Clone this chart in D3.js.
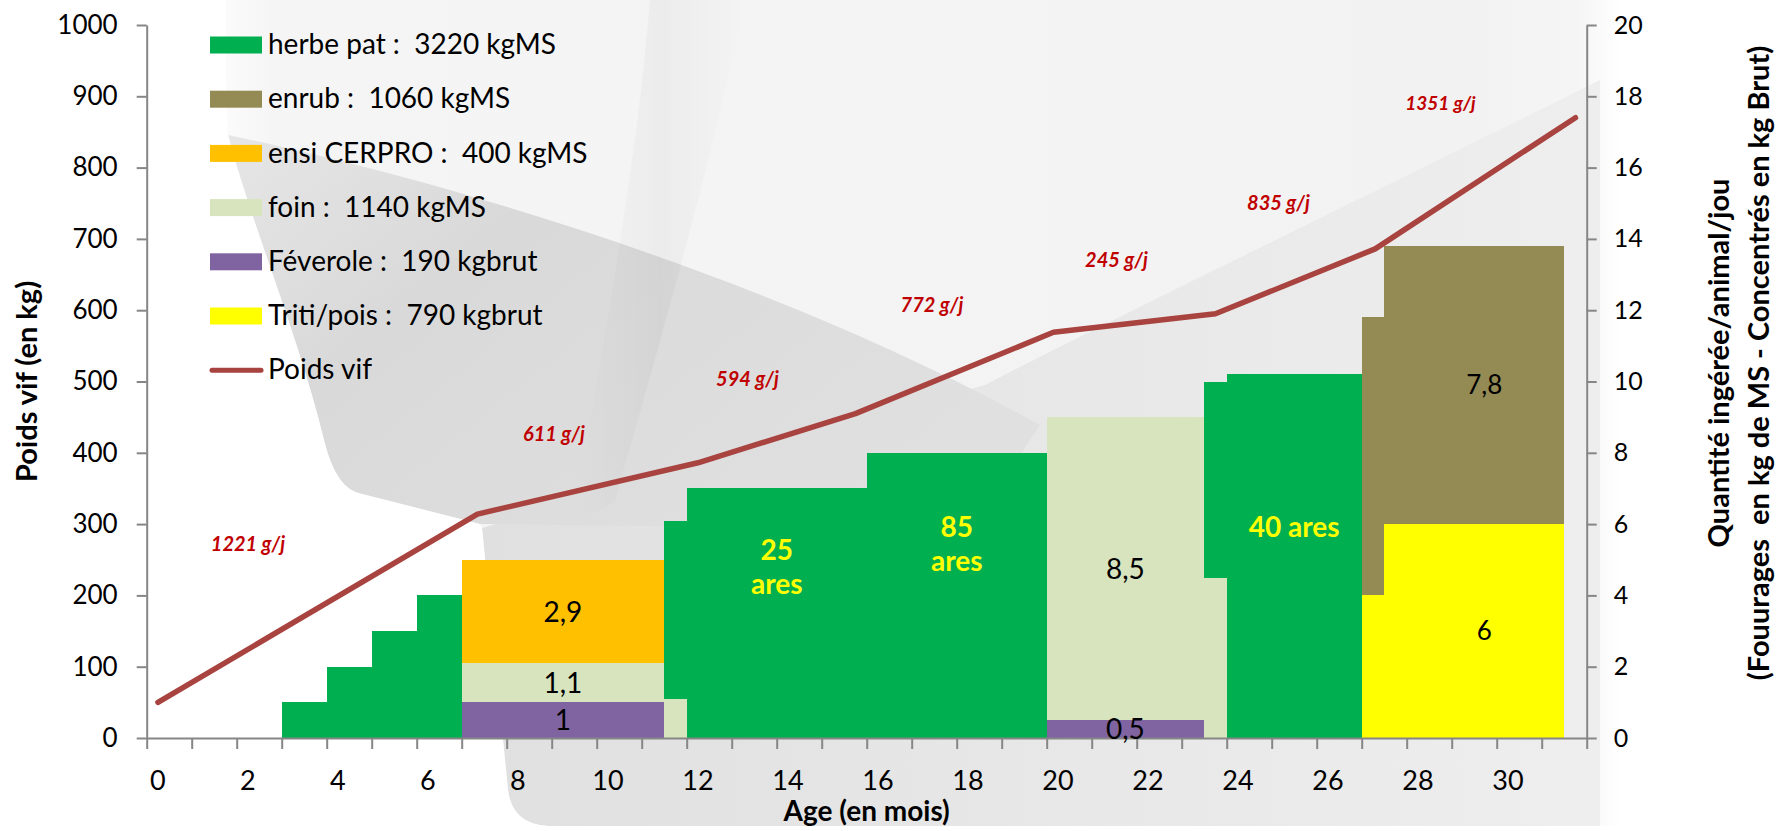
<!DOCTYPE html>
<html>
<head>
<meta charset="utf-8">
<script src="https://cdn.jsdelivr.net/npm/d3@7"></script>
<style>
  html, body { margin: 0; padding: 0; background: #fff; }
  svg { display: block; }
  text { font-family: Lato, "Noto Sans", sans-serif; }
</style>
</head>
<body>
<svg id="chart" width="1789" height="831"></svg>
<script>
// ---------- feeding periods (monthly tick units) ----------
const periodStart = [3, 4, 5, 6, 7, 11.5, 12, 16, 20, 23.5, 24, 27, 27.5];
const periodEnd   = [4, 5, 6, 7, 11.5, 12, 16, 20, 23.5, 24, 27, 27.5, 31.5];

// daily intake per animal (kg MS for forages, kg brut for concentrates)
const feverole = [0, 0, 0, 0, 1,   0,   0, 0, 0.5, 0,   0,    0,   0];
const triti    = [0, 0, 0, 0, 0,   0,   0, 0, 0,   0,   0,    4,   6];
const foin     = [0, 0, 0, 0, 1.1, 1.1, 0, 0, 8.5, 4.5, 0,    0,   0];
const herbe    = [1, 2, 3, 4, 0,   5.0, 7, 8, 0,   5.5, 10.2, 0,   0];
const ensi     = [0, 0, 0, 0, 2.9, 0,   0, 0, 0,   0,   0,    0,   0];
const enrub    = [0, 0, 0, 0, 0,   0,   0, 0, 0,   0,   0,    7.8, 7.8];

// stacking order, bottom to top
const stackKeys = ["feverole", "triti", "foin", "herbe", "ensi", "enrub"];

// legend
const legendKeys   = ["herbe", "enrub", "ensi", "foin", "feverole", "triti"];
const legendLabels = ["herbe pat :  3220 kgMS", "enrub :  1060 kgMS", "ensi CERPRO :  400 kgMS",
                      "foin :  1140 kgMS", "Féverole :  190 kgbrut", "Triti/pois :  790 kgbrut"];
const lineLabel = "Poids vif";

// live weight (kg) against age (months)
const ageMonths = [0, 7.1, 12, 15.5, 19.9, 23.5, 27.05, 31.5];
const poidsVif  = [50, 314, 386, 455, 569, 595, 686, 870];

// daily gain annotations (placed at age, kg)
const gainText = ["1221 g/j", "611 g/j", "594 g/j", "772 g/j", "245 g/j", "835 g/j", "1351 g/j"];
const gainAge  = [2.0, 8.8, 13.1, 17.2, 21.3, 24.9, 28.5];
const gainKg   = [272, 427, 504, 607, 670, 750, 890];

// values written inside the stacked blocks
const valueLabelSeries = ["feverole", "foin", "ensi", "feverole", "foin", "triti", "enrub"];
const valueLabelPeriod = [4, 4, 4, 8, 8, 12, 12];

// pasture areas written on the grass blocks
const areaLines  = [["25", "ares"], ["85", "ares"], ["40 ares"]];
const areaPeriod = [6, 7, 10];
const areaKg     = [250, 282, 282];

// axis ticks
const ageLabels    = d3.range(0, 31, 2);
const monthTicks   = d3.range(0, 33, 1);
const weightTicks  = d3.range(0, 1001, 100);
const intakeTicks  = d3.range(0, 21, 2);

// ---------- styling ----------
const colors = {
  herbe: "#00B050", enrub: "#948A54", ensi: "#FFC000",
  foin: "#D7E4BD", feverole: "#8064A2", triti: "#FFFF00"
};
const lineColor = "#A8433F";
const axisColor = "#868686";
const wideFont = "'DejaVu Sans', Verdana, sans-serif";

const plot = { left: 146.7, right: 1586.7, top: 25, bottom: 738 };
const labelShift = 0.25;   // age labels sit a quarter month right of each monthly tick

const svg = d3.select("#chart");

const x = d3.scaleLinear().domain([0, 32]).range([plot.left, plot.right]);
const yKg = d3.scaleLinear().domain([0, 1000]).range([plot.bottom, plot.top]);
const yIntake = d3.scaleLinear().domain([0, 20]).range([plot.bottom, plot.top]);

// ---------- decorative backdrop ----------
const defs = svg.append("defs");
function gradient(id, x1, y1, x2, y2, stops) {
  const g = defs.append("linearGradient").attr("id", id)
    .attr("x1", x1).attr("y1", y1).attr("x2", x2).attr("y2", y2);
  stops.forEach(([o, c]) => g.append("stop").attr("offset", o).attr("stop-color", c));
}
gradient("sheet", 0, 0, 1, 0, [["0%", "#ffffff"], ["6%", "#f5f5f5"], ["90%", "#f2f2f2"], ["97%", "#f5f5f5"], ["100%", "#ffffff"]]);
gradient("swoosh", 0, 0, 1, 0.6, [["0%", "#e6e6e6"], ["35%", "#d9d9d9"], ["100%", "#e0e0e0"]]);
gradient("lower", 0, 0, 1, 0, [["0%", "#e0e0e0"], ["55%", "#e8e8e8"], ["100%", "#eeeeee"]]);
gradient("band", 0, 0, 1, 0, [["0%", "rgba(0,0,0,0)"], ["50%", "rgba(0,0,0,0.035)"], ["100%", "rgba(0,0,0,0)"]]);

const bg = svg.append("g").attr("class", "backdrop");
bg.append("rect").attr("x", 190).attr("y", 0).attr("width", 1430).attr("height", 831).attr("fill", "url(#sheet)");
// lower sheet, right of the bowl
bg.append("path").attr("fill", "url(#lower)")
  .attr("d", "M985,385 C1150,300 1380,190 1600,80 L1600,826 L548,826 Q512,824 508,790 L482,528 Z");
// dark swoosh
bg.append("path").attr("fill", "url(#swoosh)")
  .attr("d", "M228,135 C420,175 760,270 1040,425 C1010,470 990,500 980,530 L480,524 L362,494 Q336,490 324,440 C300,340 250,220 228,135 Z");
// soft vertical band
bg.append("path").attr("fill", "url(#band)")
  .attr("d", "M650,0 L745,0 C710,170 655,360 615,500 Q596,520 575,505 C600,360 635,180 650,0 Z");
// white bottom-left field
bg.append("path").attr("fill", "#ffffff")
  .attr("d", "M0,0 L226,0 C226,60 226,100 228,135 C250,220 300,340 324,440 Q336,490 362,494 L480,524 L482,528 L508,790 Q512,824 548,826 L1620,826 L1620,831 L0,831 Z");

// ---------- stacked intake blocks ----------
const rows = periodStart.map((s, i) => ({
  start: s, end: periodEnd[i],
  feverole: feverole[i], triti: triti[i], foin: foin[i],
  herbe: herbe[i], ensi: ensi[i], enrub: enrub[i]
}));
const stacked = d3.stack().keys(stackKeys)(rows);

svg.append("g").attr("class", "blocks")
  .selectAll("g").data(stacked).join("g")
  .attr("fill", d => colors[d.key])
  .selectAll("rect").data(d => d.filter(s => s[1] > s[0])).join("rect")
  .attr("shape-rendering", "crispEdges")
  .attr("x", d => x(d.data.start))
  .attr("width", d => x(d.data.end) - x(d.data.start))
  .attr("y", d => yIntake(d[1]))
  .attr("height", d => yIntake(d[0]) - yIntake(d[1]));

// ---------- axes ----------
const axisLeft = d3.axisLeft(yKg).tickValues(weightTicks).tickFormat(d3.format("d"))
  .tickSize(10).tickSizeOuter(0).tickPadding(19);
const axisRight = d3.axisRight(yIntake).tickValues(intakeTicks).tickFormat(d3.format("d"))
  .tickSize(10).tickSizeOuter(0).tickPadding(17);
const axisBottom = d3.axisBottom(x).tickValues(monthTicks).tickSize(11).tickSizeOuter(0).tickFormat("");

function styleAxis(g) {
  g.select(".domain").attr("stroke", axisColor).attr("stroke-width", 2);
  g.selectAll(".tick line").attr("stroke", axisColor).attr("stroke-width", 2);
  g.selectAll(".tick text").attr("fill", "#000");
}

svg.append("g").attr("transform", `translate(${plot.left},0)`).call(axisLeft).call(styleAxis)
  .selectAll(".tick text").attr("font-family", wideFont).attr("font-size", 26);
svg.append("g").attr("transform", `translate(${plot.right},0)`).call(axisRight).call(styleAxis)
  .selectAll(".tick text").attr("font-family", wideFont).attr("font-size", 25);
svg.append("g").attr("transform", `translate(0,${plot.bottom})`).call(axisBottom).call(styleAxis);

svg.append("g").selectAll("text").data(ageLabels).join("text")
  .attr("x", d => x(d + labelShift)).attr("y", 790)
  .attr("text-anchor", "middle").attr("font-size", 27).attr("fill", "#000")
  .text(d => d);

// axis titles
svg.append("text").attr("transform", `translate(37,${(plot.top + plot.bottom) / 2}) rotate(-90)`)
  .attr("text-anchor", "middle").attr("font-weight", "bold").attr("font-size", 29).text("Poids vif (en kg)");
svg.append("text").attr("x", (plot.left + plot.right) / 2).attr("y", 821)
  .attr("text-anchor", "middle").attr("font-weight", "bold").attr("font-size", 28).text("Age (en mois)");
svg.append("text").attr("transform", `translate(1729,363) rotate(-90)`)
  .attr("text-anchor", "middle").attr("font-weight", "bold").attr("font-size", 29)
  .text("Quantité ingérée/animal/jou");
svg.append("text").attr("transform", `translate(1769,363) rotate(-90)`)
  .attr("text-anchor", "middle").attr("font-weight", "bold").attr("font-size", 29)
  .style("white-space", "pre")
  .text("(Fouurages  en kg de MS - Concentrés en kg Brut)");

// ---------- live weight line ----------
const weightPoints = ageMonths.map((a, i) => [a, poidsVif[i]]);
svg.append("path").datum(weightPoints)
  .attr("fill", "none").attr("stroke", lineColor).attr("stroke-width", 5.5)
  .attr("stroke-linejoin", "round").attr("stroke-linecap", "round")
  .attr("d", d3.line().x(d => x(d[0] + labelShift)).y(d => yKg(d[1])));

// ---------- value labels in blocks ----------
const fmtComma = v => String(v).replace(".", ",");
valueLabelSeries.forEach((key, i) => {
  const layer = stacked.find(s => s.key === key);
  const seg = layer[valueLabelPeriod[i]];
  const wide = key === "triti" || key === "enrub";
  svg.append("text")
    .attr("x", x((seg.data.start + seg.data.end) / 2) + (wide ? 10 : 0))
    .attr("y", yIntake((seg[0] + seg[1]) / 2))
    .attr("dy", "0.36em")
    .attr("text-anchor", "middle")
    .attr("font-family", wide ? wideFont : "Lato, sans-serif")
    .attr("font-size", wide ? 26 : 28)
    .attr("fill", "#000")
    .text(fmtComma(seg.data[key]));
});

// pasture area notes
areaLines.forEach((lines, i) => {
  const r = rows[areaPeriod[i]];
  const t = svg.append("text")
    .attr("x", x((r.start + r.end) / 2))
    .attr("y", yKg(areaKg[i]))
    .attr("text-anchor", "middle").attr("font-weight", "bold").attr("font-size", 28).attr("fill", "#FFFF00");
  lines.forEach((l, j) => {
    t.append("tspan").attr("x", x((r.start + r.end) / 2)).attr("dy", j === 0 ? 0 : 34).text(l);
  });
});

// daily gain annotations
gainText.forEach((g, i) => {
  const last = i === gainText.length - 1;
  svg.append("text")
    .attr("x", x(gainAge[i] + labelShift)).attr("y", yKg(gainKg[i]))
    .attr("dy", "0.35em").attr("text-anchor", "middle")
    .attr("font-family", last ? wideFont : "Lato, sans-serif")
    .attr("font-size", last ? 19 : 20)
    .attr("font-weight", "bold").attr("font-style", "italic")
    .attr("fill", "#C00000")
    .text(g);
});

// ---------- legend ----------
const legend = svg.append("g").attr("class", "legend");
const rowY = i => 45 + i * 54.2;
legendKeys.forEach((k, i) => {
  legend.append("rect").attr("x", 210).attr("y", rowY(i) - 8.5).attr("width", 52).attr("height", 17).attr("fill", colors[k]);
  legend.append("text").attr("x", 268).attr("y", rowY(i)).attr("dy", "0.33em")
    .attr("font-size", 28).style("white-space", "pre").attr("fill", "#000").text(legendLabels[i]);
});
const li = legendKeys.length;
legend.append("line").attr("x1", 212).attr("x2", 261).attr("y1", rowY(li)).attr("y2", rowY(li))
  .attr("stroke", lineColor).attr("stroke-width", 5).attr("stroke-linecap", "round");
legend.append("text").attr("x", 268).attr("y", rowY(li)).attr("dy", "0.33em")
  .attr("font-size", 28).attr("fill", "#000").text(lineLabel);
</script>
</body>
</html>
